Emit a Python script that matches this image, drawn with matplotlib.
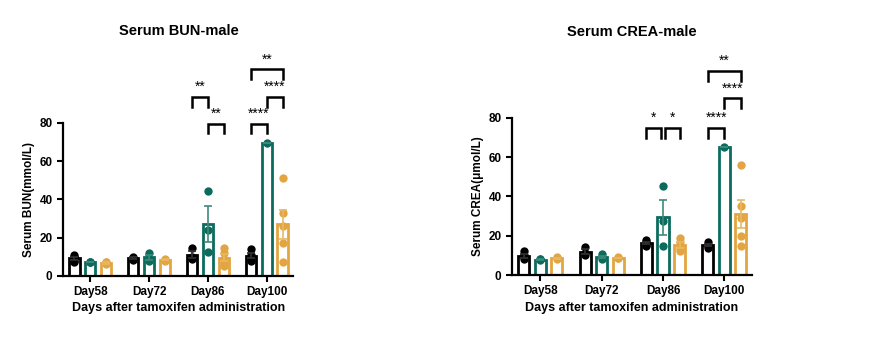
import numpy as np
import matplotlib
matplotlib.use('Agg')
import matplotlib.pyplot as plt

plt.rcParams['font.family'] = ['Liberation Sans', 'DejaVu Sans']
plt.rcParams['font.weight'] = 'bold'

days = ['Day58', 'Day72', 'Day86', 'Day100']
colors = ['#000000', '#0b6b5c', '#e3a541']
err_colors = ['#333333', '#3f8a7c', '#e8b965']

# individual points per group (black, teal, orange) for each day
bun_black = [[11, 10, 9, 8, 10, 7], [10, 9.5, 8.5], [14.5, 10, 9], [14, 11, 9, 8]]
bun_teal = [[7.5, 7, 7], [12, 9, 8], [44.5, 24, 12.5], [69.5]]
bun_orange = [[7.5, 7, 6], [9, 8.5, 8], [14.5, 12, 9, 7, 5], [51, 33, 26, 17, 7.5]]

crea_black = [[12, 10, 9, 8], [14.5, 11, 10], [18, 17, 15.5, 15], [17, 15.5, 15, 14]]
crea_teal = [[8, 8, 7.5], [10.5, 9, 8], [45.5, 27.5, 15], [65]]
crea_orange = [[9, 8.5, 8], [9, 8.5, 8.5], [19, 17, 13, 12], [56, 35, 29, 20, 15]]

# significance brackets: (day index, group a, group b, y level, label)
bun_sig = [(2, 0, 1, 93.5, '**'), (2, 1, 2, 79.5, '**'),
           (3, 0, 1, 79.5, '****'), (3, 1, 2, 93.5, '****'), (3, 0, 2, 108, '**')]
crea_sig = [(2, 0, 1, 75, '*'), (2, 1, 2, 75, '*'),
            (3, 0, 1, 75, '****'), (3, 1, 2, 90, '****'), (3, 0, 2, 104, '**')]

offset = 0.27
width = 0.18


def draw_panel(ax, groups, sig, ylabel):
    x = np.arange(len(days))
    for g, pts in enumerate(groups):
        c = colors[g]
        xs = x + (g - 1) * offset
        means = [np.mean(p) for p in pts]
        sems = [np.std(p, ddof=1) / np.sqrt(len(p)) if len(p) > 1 else 0 for p in pts]
        ax.bar(xs, means, width=width, facecolor='white', edgecolor=c, linewidth=2.0, zorder=2)
        for xi, p in zip(xs, pts):
            ax.scatter([xi] * len(p), p, s=36, color=c, zorder=3, linewidths=0)
        ax.errorbar(xs, means, yerr=sems, fmt='none', ecolor=err_colors[g], elinewidth=1.2,
                    capsize=3, capthick=1.2, zorder=4)
    for d, a, b, y, lab in sig:
        x1 = d + (a - 1) * offset
        x2 = d + (b - 1) * offset
        # brackets that meet at the same height get a small gap
        for d2, a2, b2, y2, _ in sig:
            if d2 == d and y2 == y:
                if b2 == a:
                    x1 += 0.04
                if a2 == b:
                    x2 -= 0.04
        ax.plot([x1, x1, x2, x2], [y - 5, y, y, y - 5], color='black', lw=1.8,
                clip_on=False, solid_joinstyle='miter')
        ax.text((x1 + x2) / 2, y + 1.5, lab, ha='center', va='bottom', fontsize=10,
                fontweight='normal')
    ax.set_ylim(0, 80)
    ax.set_xlim(-0.46, 3.45)
    ax.set_yticks([0, 20, 40, 60, 80])
    ax.set_xticks(x)
    ax.set_xticklabels(days)
    ax.tick_params(labelsize=8.5, width=1.5, length=4)
    for s in ['top', 'right']:
        ax.spines[s].set_visible(False)
    for s in ['left', 'bottom']:
        ax.spines[s].set_linewidth(1.6)
    ax.set_ylabel(ylabel, fontsize=8.5, fontweight='bold', labelpad=3)
    ax.set_xlabel('Days after tamoxifen administration', fontsize=9, fontweight='bold', labelpad=3)


fig = plt.figure(figsize=(8.79, 3.51), dpi=100)
ax1 = fig.add_axes([0.0717, 0.214, 0.262, 0.436])
ax2 = fig.add_axes([0.5825, 0.2165, 0.273, 0.4475])

draw_panel(ax1, [bun_black, bun_teal, bun_orange], bun_sig, 'Serum BUN(mmol/L)')
draw_panel(ax2, [crea_black, crea_teal, crea_orange], crea_sig, 'Serum CREA(μmol/L)')

fig.text(179 / 879, 1 - 31 / 351, 'Serum BUN-male', ha='center', va='center', fontsize=10.5, fontweight='bold')
fig.text(632 / 879, 1 - 32 / 351, 'Serum CREA-male', ha='center', va='center', fontsize=10.5, fontweight='bold')

fig.savefig('out.png', dpi=100)
